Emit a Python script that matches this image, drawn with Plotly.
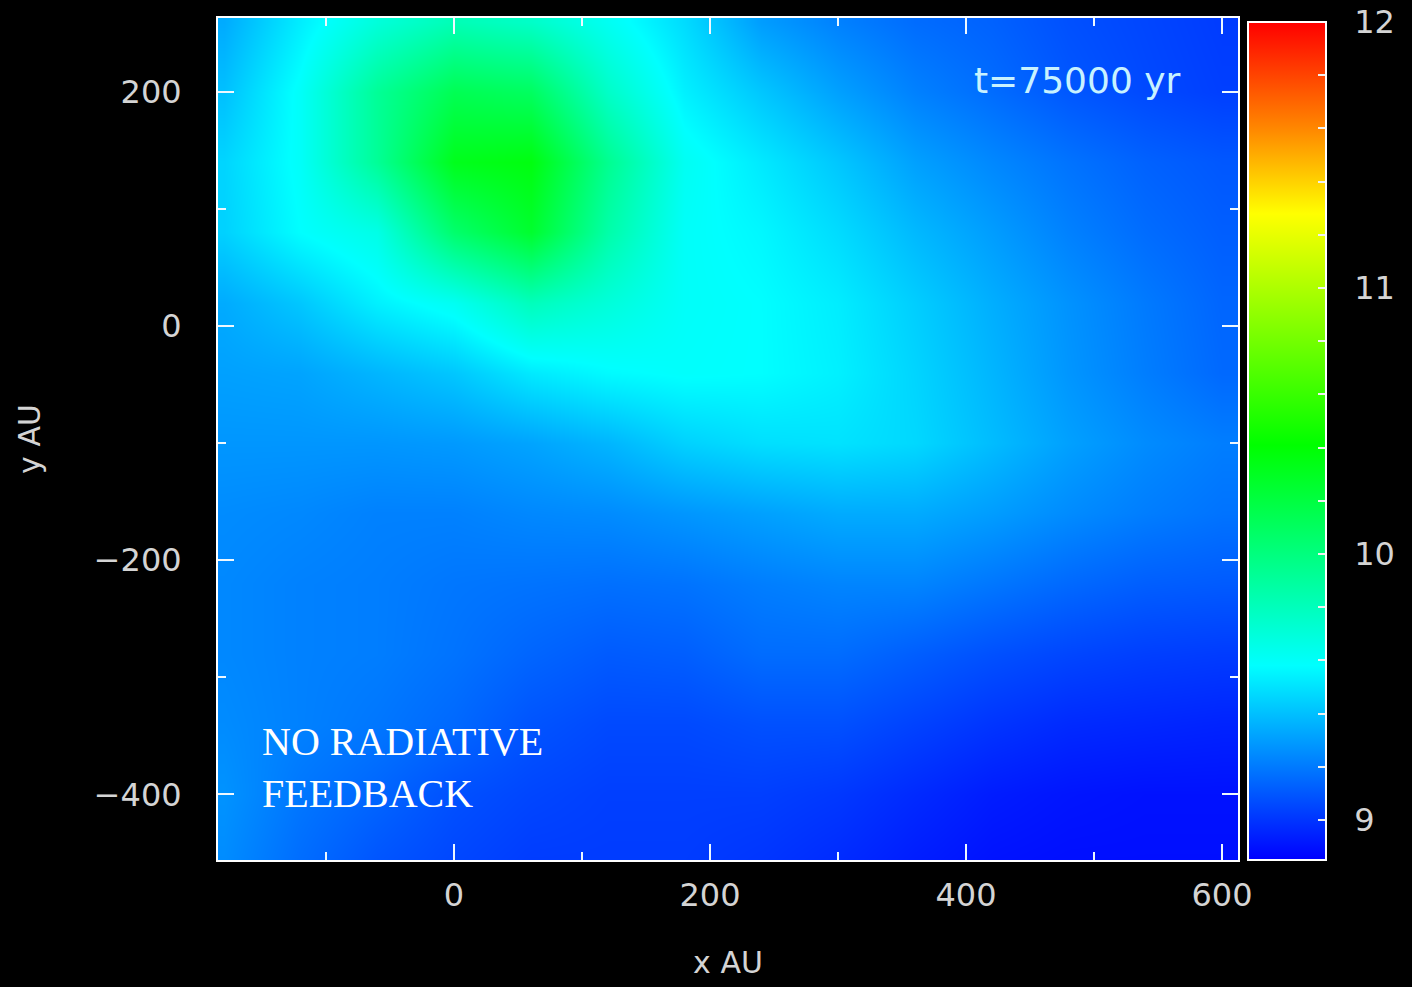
import plotly.graph_objects as go

# grid positions (AU)
x_au = [-180, -120, -60, 0, 60, 120, 180, 240, 300, 360, 420, 480, 540, 600]
y_au = [260, 200, 140, 80, 20, -40, -100, -160, -220, -280, -340, -400, -460]

# log column density, rows from top (y=260) to bottom (y=-460)
log_density = [
    [9.34, 9.53, 9.70, 9.82, 9.76, 9.62, 9.48, 9.30, 9.22, 9.16, 9.13, 9.08, 9.05, 9.02],
    [9.40, 9.60, 9.92, 10.14, 10.10, 9.76, 9.54, 9.42, 9.31, 9.22, 9.16, 9.10, 9.06, 9.03],
    [9.46, 9.60, 9.92, 10.32, 10.36, 9.94, 9.62, 9.52, 9.42, 9.31, 9.24, 9.18, 9.13, 9.10],
    [9.45, 9.58, 9.66, 10.06, 10.26, 9.86, 9.60, 9.56, 9.48, 9.38, 9.30, 9.22, 9.16, 9.12],
    [9.34, 9.42, 9.54, 9.62, 9.80, 9.70, 9.60, 9.58, 9.53, 9.44, 9.35, 9.27, 9.20, 9.14],
    [9.31, 9.32, 9.37, 9.42, 9.52, 9.57, 9.59, 9.58, 9.54, 9.46, 9.37, 9.28, 9.21, 9.15],
    [9.28, 9.28, 9.28, 9.29, 9.32, 9.37, 9.45, 9.49, 9.50, 9.47, 9.39, 9.31, 9.25, 9.21],
    [9.25, 9.24, 9.22, 9.22, 9.24, 9.25, 9.28, 9.31, 9.34, 9.34, 9.30, 9.25, 9.21, 9.18],
    [9.24, 9.22, 9.21, 9.19, 9.18, 9.17, 9.18, 9.21, 9.23, 9.23, 9.19, 9.15, 9.12, 9.11],
    [9.24, 9.22, 9.21, 9.18, 9.14, 9.11, 9.12, 9.16, 9.16, 9.12, 9.08, 9.05, 9.03, 9.02],
    [9.25, 9.22, 9.19, 9.15, 9.09, 9.06, 9.06, 9.08, 9.08, 9.04, 9.00, 8.97, 8.96, 8.95],
    [9.27, 9.19, 9.14, 9.08, 9.05, 9.03, 9.03, 9.03, 9.01, 8.97, 8.93, 8.91, 8.90, 8.90],
    [9.25, 9.16, 9.09, 9.05, 9.02, 9.02, 9.02, 9.00, 8.97, 8.93, 8.90, 8.89, 8.89, 8.89],
]

cbar_ticks = [9.0, 9.2, 9.4, 9.6, 9.8, 10.0, 10.2, 10.4, 10.6, 10.8,
              11.0, 11.2, 11.4, 11.6, 11.8, 12.0]
cbar_labels = ["\u00a0\u00a09", "", "", "", "", "\u00a0\u00a010", "", "", "", "",
               "\u00a0\u00a011", "", "", "", "", "\u00a0\u00a012"]

colorscale = [
    [0.0, "rgb(0,0,255)"],
    [0.232, "rgb(0,255,255)"],
    [0.495, "rgb(0,255,0)"],
    [0.771, "rgb(255,255,0)"],
    [0.873, "rgb(255,135,0)"],
    [1.0, "rgb(255,0,0)"],
]

label_font = dict(family="DejaVu Sans", size=32, color="#d4d4d4")

fig = go.Figure(
    go.Heatmap(
        x=x_au,
        y=y_au[::-1],
        z=log_density[::-1],
        zsmooth="best",
        zmin=8.85,
        zmax=12.0,
        colorscale=colorscale,
        colorbar=dict(
            x=1.0098, xanchor="left", xpad=0,
            y=0, yanchor="bottom", ypad=0,
            len=0.995, lenmode="fraction",
            thickness=78, thicknessmode="pixels",
            outlinecolor="white", outlinewidth=2,
            tickmode="array", tickvals=cbar_ticks, ticktext=cbar_labels,
            ticks="inside", ticklen=9, tickwidth=2, tickcolor="#f0f0f0",
            tickfont=label_font,
        ),
        showscale=True,
    )
)

axis_common = dict(
    ticks="inside", ticklen=16, tickwidth=2, tickcolor="#eef8ff",
    showline=True, linecolor="white", linewidth=2, mirror="allticks",
    showgrid=False, zeroline=False, tickfont=label_font,
    minor=dict(ticks="inside", ticklen=8, tickwidth=2, tickcolor="#eef8ff", dtick=100, showgrid=False),
)

fig.update_xaxes(
    range=[-184.4, 612.5], tick0=0, dtick=200,
    ticklabelstandoff=6,
    title=dict(text="x AU", font=dict(family="DejaVu Sans", size=30, color="#d4d4d4"), standoff=39),
    **axis_common,
)
fig.update_yaxes(
    range=[-456, 263], tick0=0, dtick=200,
    ticklabelstandoff=28,
    title=dict(text="y AU", font=dict(family="DejaVu Sans", size=30, color="#d4d4d4"), standoff=44),
    **axis_common,
)

fig.add_annotation(
    x=487, y=210, xref="x", yref="y", text="t=75000 yr", showarrow=False,
    font=dict(family="DejaVu Sans", size=36, color="#c8f2ff"),
)
fig.add_annotation(
    x=-151.6, y=-377, xref="x", yref="y", text="NO RADIATIVE<br>FEEDBACK",
    showarrow=False, xanchor="left", align="left",
    font=dict(family="Liberation Serif", size=40, color="white"),
)

fig.update_layout(
    width=1412, height=987,
    margin=dict(l=218, r=174, t=18, b=127, autoexpand=False),
    paper_bgcolor="black", plot_bgcolor="black",
    showlegend=False,
)

fig.write_html("out.html")
